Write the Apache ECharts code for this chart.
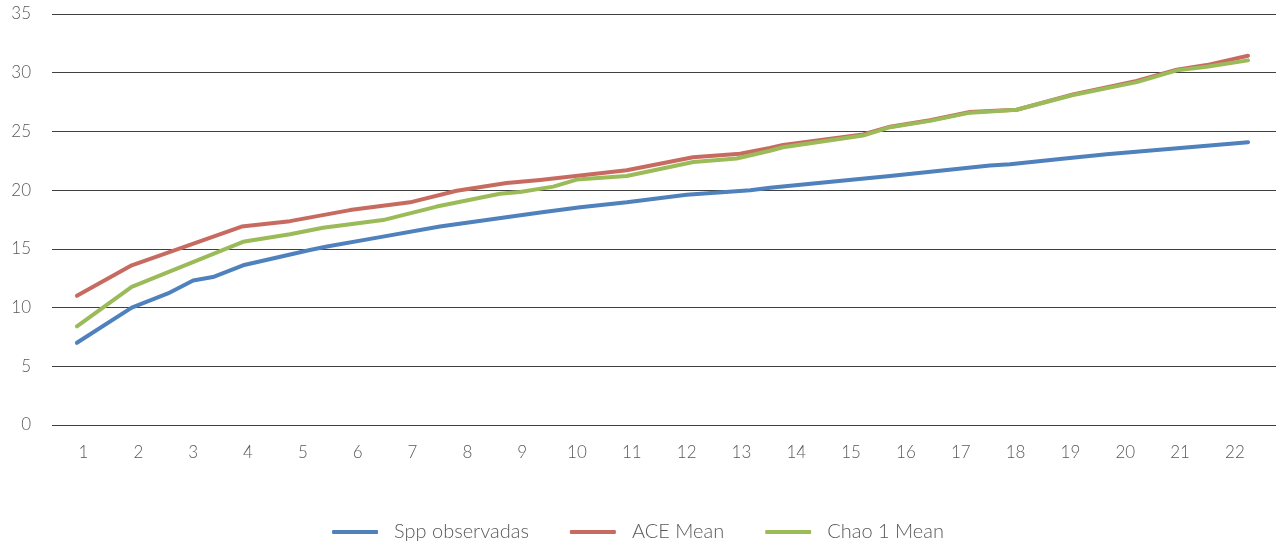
<!DOCTYPE html>
<html>
<head>
<meta charset="utf-8">
<script src="https://cdn.jsdelivr.net/npm/echarts@6.0.0/dist/echarts.min.js"></script>
<style>
html,body{margin:0;padding:0;background:#fff;}
#chart{width:1276px;height:543px;}
</style>
</head>
<body>
<div id="chart"></div>
<script>
// Tick labels
const xTickLabels = [1,2,3,4,5,6,7,8,9,10,11,12,13,14,15,16,17,18,19,20,21,22];
const yTicks = [0,5,10,15,20,25,30,35];
const seriesNames = ['Spp observadas', 'ACE Mean', 'Chao 1 Mean'];

// Spp observadas (x position on sample axis, value)
const sppX = [0.88,1.88,2.54,3.00,3.36,3.91,5.13,5.44,6.41,7.50,9.33,10.06,10.91,12.00,13.16,13.52,15.71,17.53,17.90,18.81,19.66,22.24];
const sppY = [7.0,10.0,11.2,12.3,12.6,13.6,14.9,15.2,16.0,16.9,18.1,18.55,18.96,19.6,20.0,20.2,21.2,22.1,22.2,22.65,23.05,24.08];

// ACE Mean
const aceX = [0.88,1.88,3.885,4.766,5.86,6.955,7.807,8.718,9.326,10.907,12.116,12.974,13.52,13.758,15.217,15.71,16.439,17.169,17.534,18.02,19.047,20.209,20.938,21.485,22.239];
const aceY = [11.0,13.6,16.9,17.36,18.3,18.96,19.95,20.6,20.86,21.7,22.8,23.1,23.6,23.85,24.75,25.4,25.95,26.65,26.75,26.85,28.15,29.3,30.25,30.65,31.45];

// Chao 1 Mean
const chaoX = [0.88,1.879,3.909,4.766,5.368,6.462,7.442,8.596,8.96,9.568,9.995,10.907,12.122,12.913,13.52,13.758,15.217,15.71,16.439,17.169,17.534,18.02,19.047,20.209,20.938,21.485,22.239];
const chaoY = [8.4,11.76,15.6,16.25,16.8,17.45,18.6,19.7,19.85,20.3,20.9,21.2,22.4,22.7,23.35,23.65,24.65,25.36,25.9,26.6,26.7,26.85,28.1,29.2,30.2,30.5,31.05];

const colors = ['#4f81bd', '#c76b60', '#9bbb59'];
const zip = (xs, ys) => xs.map((x, i) => [x, ys[i]]);

const font = "'Lato', 'Open Sans', sans-serif";
const chart = echarts.init(document.getElementById('chart'));
chart.setOption({
  animation: false,
  color: colors,
  grid: { left: 52, right: 0, top: 14, bottom: 118, containLabel: false },
  xAxis: {
    type: 'value',
    min: 0.4255,
    max: 22.749,
    axisLine: { show: false },
    axisTick: { show: false },
    splitLine: { show: false },
    axisLabel: {
      customValues: xTickLabels,
      color: '#595959',
      fontSize: 17,
      fontFamily: font,
      fontWeight: 300,
      margin: 19
    }
  },
  yAxis: {
    type: 'value',
    min: 0,
    max: 35,
    interval: 5,
    axisLine: { show: false },
    axisTick: { show: false },
    axisLabel: {
      color: '#595959',
      fontSize: 17,
      fontFamily: font,
      fontWeight: 300,
      margin: 21
    },
    splitLine: { lineStyle: { color: '#404040', width: 1 } }
  },
  legend: {
    top: 517,
    left: 'center',
    icon: 'roundRect',
    itemWidth: 46,
    itemHeight: 4,
    itemGap: 41,
    textStyle: {
      color: '#595959',
      fontSize: 20,
      fontFamily: font,
      fontWeight: 300,
      padding: [0, 0, 0, 11]
    },
    data: seriesNames
  },
  series: [
    { name: seriesNames[0], type: 'line', data: zip(sppX, sppY), symbol: 'none', lineStyle: { width: 4, cap: 'round', join: 'round' }, z: 3 },
    { name: seriesNames[1], type: 'line', data: zip(aceX, aceY), symbol: 'none', lineStyle: { width: 4, cap: 'round', join: 'round' }, z: 4 },
    { name: seriesNames[2], type: 'line', data: zip(chaoX, chaoY), symbol: 'none', lineStyle: { width: 4, cap: 'round', join: 'round' }, z: 5 }
  ]
});
</script>
</body>
</html>
